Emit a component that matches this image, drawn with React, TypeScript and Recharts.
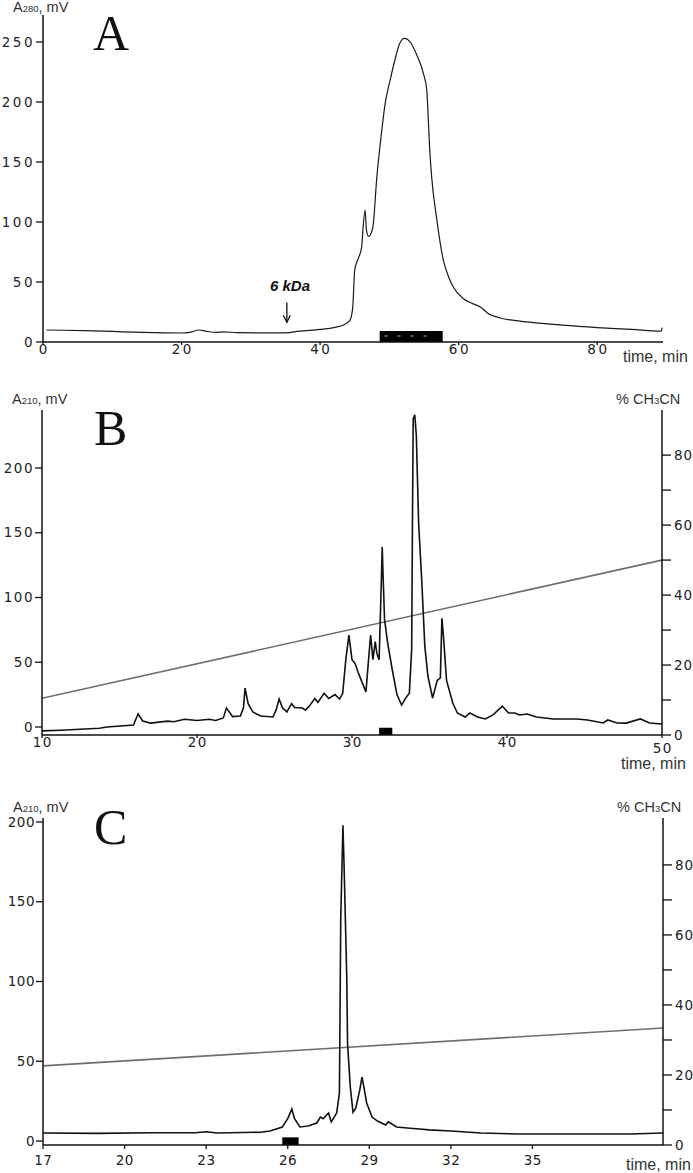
import React from "react";
import {
  ComposedChart,
  Line,
  XAxis,
  YAxis,
  ReferenceArea,
  ReferenceLine,
} from "recharts";

// panel A: gel filtration, A280
const aTime = [
  0.5, 3, 6, 10, 13, 16, 20, 21.5, 22.5, 23.5, 25, 26, 28, 32, 35, 37, 40, 42,
  43.3, 44.3, 44.7, 45.0, 45.4, 46.0, 46.2, 46.5, 46.7, 47.0, 47.6, 48.2, 48.9,
  49.4, 50.1, 50.8, 51.5, 52.2, 53.0, 53.9, 54.9, 55.4, 55.6, 55.8, 56.1, 56.8,
  57.8, 58.5, 59.2, 60.7, 62, 63.2, 64.2, 66, 68, 72, 75, 80, 85, 89.2, 89.4,
];
const aSignal = [
  10, 9.8, 9.5, 8.8, 8.2, 7.8, 7.5, 8.5, 10, 9, 8, 8.5, 7.8, 7.6, 7.6, 9, 10.5,
  12, 14, 18, 28, 60, 68, 79, 95, 110, 93, 88, 95, 138, 176, 199, 218, 235, 249,
  253, 250, 240, 224, 210, 188, 163, 138, 104, 68, 55, 46, 36, 32, 29, 24, 20,
  18, 15.5, 14, 12, 10.5, 9, 12,
];
const aTicksX = [0, 20, 40, 60, 80];
const aTicksY = [0, 50, 100, 150, 200, 250];

// panel B: RP-HPLC, A210
const bTime = [
  10.0, 11.2, 13.7, 14.2, 15.9, 16.2, 16.5, 17.0, 18.1, 18.5, 19.2, 20.0, 20.8,
  21.2, 21.7, 21.9, 22.3, 22.8, 23.0, 23.1, 23.3, 23.6, 24.1, 24.9, 25.1, 25.3,
  25.5, 25.8, 26.1, 26.3, 26.8, 27.0, 27.3, 27.6, 27.8, 28.2, 28.5, 28.9, 29.2,
  29.4, 29.6, 29.8, 30.0, 30.2, 30.4, 30.6, 30.9, 31.0, 31.2, 31.35, 31.5, 31.6,
  31.75, 31.9, 31.95, 32.0, 32.1, 32.3, 32.6, 32.9, 33.2, 33.5, 33.7, 33.85,
  33.9, 33.95, 34.05, 34.15, 34.3, 34.5, 34.7, 34.9, 35.2, 35.5, 35.7, 35.8,
  35.9, 36.1, 36.5, 36.8, 37.3, 37.6, 38.1, 38.6, 39.1, 39.7, 40.1, 40.5, 40.8,
  41.3, 41.9, 43.0, 44.5, 45.2, 46.2, 46.5, 47.1, 47.7, 48.6, 49.2, 50,
];
const bSignal = [
  -3, -2.5, -1, 0, 1.5, 10, 4.6, 3, 4.5, 4, 6, 5, 6, 5, 7, 14.6, 8, 8.5, 15, 30,
  18, 11.6, 8.5, 7.7, 13, 21.6, 15, 11.6, 18, 15, 14.6, 13, 17, 22, 19, 26, 22,
  25, 21.6, 26, 52, 71, 52, 49, 42, 36, 27, 42, 71, 52, 66, 57, 52, 116, 139,
  119, 83, 65, 44, 25, 17, 23, 26, 60, 157, 238, 241, 225, 157, 113, 62, 39,
  22.4, 36, 38, 84, 70, 36, 18.5, 10.8, 7.7, 10.8, 7.7, 6.2, 9.3, 16, 10.8,
  10.8, 9.3, 10, 7.7, 6.2, 6.2, 5.4, 3.1, 5.4, 3.1, 3, 6.2, 3.1, 2.3,
];
const bGradTime = [10, 50];
const bGradPct = [10.5, 50];
const bTicksX = [10, 20, 30, 40, 50];
const bTicksY = [0, 50, 100, 150, 200];
const pctTicks = [0, 10, 20, 30, 40, 50, 60, 70, 80];

// panel C: rechromatography, A210
const cTime = [
  17, 19, 21, 22.6, 23, 23.4, 25, 25.35, 25.8, 26.0, 26.15, 26.25, 26.45, 26.75,
  27.07, 27.2, 27.3, 27.5, 27.6, 27.8, 27.9, 27.95, 28.03, 28.07, 28.17, 28.2,
  28.3, 28.4, 28.5, 28.65, 28.73, 28.8, 28.9, 29.1, 29.3, 29.6, 29.7, 30.0,
  30.5, 30.85, 31.2, 32.0, 33.1, 34.5, 38.6, 39.8,
];
const cSignal = [
  5, 4.8, 5.2, 5.2, 5.8, 5, 5.5, 6.3, 8.8, 14, 20, 14, 8.8, 9.4, 11.3, 15, 14,
  17.6, 12, 17.6, 30, 140, 198, 174, 103, 61, 34, 18, 20.6, 32, 40, 34, 24, 15,
  12.5, 10, 12, 8.8, 8, 7.5, 7, 6.3, 5, 4.4, 4.4, 5,
];
const cGradTime = [17, 39.8];
const cGradPct = [22.6, 33.4];
const cTicksX = [17, 20, 23, 26, 29, 32, 35];
const cTicksY = [0, 50, 100, 150, 200];

const zip = (t: number[], v: number[]) => t.map((time, i) => ({ time, v: v[i] }));
const aData = zip(aTime, aSignal);
const bData = zip(bTime, bSignal);
const cData = zip(cTime, cSignal);
const bGrad = bGradTime.map((time, i) => ({ time, pct: bGradPct[i] }));
const cGrad = cGradTime.map((time, i) => ({ time, pct: cGradPct[i] }));

const AXIS = "#111";
const TICK_FONT = '"DejaVu Sans", Verdana, sans-serif';
const LABEL_FONT = '"Liberation Sans", Arial, sans-serif';
const axisLine = { stroke: AXIS, strokeWidth: 1.5 };
const tickLine = { stroke: AXIS, strokeWidth: 1.3 };

function xTick(offset: number, spacing: number, extra: Record<number, number> = {}) {
  return (props: any) => {
    const { x, y, payload } = props;
    return (
      <text
        x={x + spacing / 2}
        y={y + offset + (extra[payload.value] ?? 0)}
        dy="0.35em"
        textAnchor="middle"
        fontFamily={TICK_FONT}
        fontSize={13.5}
        letterSpacing={spacing}
        fill="#222"
      >
        {payload.value}
      </text>
    );
  };
}

function yTick(spacing: number) {
  return (props: any) => {
    const { x, y, payload } = props;
    return (
      <text
        x={x}
        y={y}
        dy="0.35em"
        textAnchor="end"
        fontFamily={TICK_FONT}
        fontSize={13.5}
        letterSpacing={spacing}
        fill="#222"
      >
        {payload.value}
      </text>
    );
  };
}

const pctTick = (props: any) => {
  const { x, y, payload } = props;
  if (payload.value % 20 !== 0) return <g />;
  return (
    <text
      x={x}
      y={y}
      dy="0.35em"
      textAnchor="start"
      fontFamily={TICK_FONT}
      fontSize={13.5}
      letterSpacing={1}
      fill="#222"
    >
      {payload.value}
    </text>
  );
};

const Arrow = (props: any) => {
  const { x1, y1, x2, y2 } = props;
  return (
    <g stroke="#111" strokeWidth={1.3} fill="none">
      <line x1={x1} y1={y1} x2={x2} y2={y2} />
      <path d={`M${x2 - 3.5},${y2 - 7} L${x2},${y2} L${x2 + 3.5},${y2 - 7}`} />
    </g>
  );
};

function PanelA() {
  return (
    <ComposedChart
      width={693}
      height={370}
      data={aData}
      margin={{ top: 15, right: 30, bottom: 3, left: 0 }}
    >
      <XAxis
        dataKey="time"
        type="number"
        domain={[0, 89.5]}
        ticks={aTicksX}
        allowDataOverflow
        height={25}
        axisLine={axisLine}
        tickLine={tickLine}
        tickSize={3}
        tickMargin={0}
        tick={xTick(4, 2.5)}
        interval={0}
      />
      <YAxis
        type="number"
        domain={[0, 272.5]}
        ticks={aTicksY}
        allowDataOverflow
        width={43}
        axisLine={axisLine}
        tickLine={tickLine}
        tickSize={7}
        tickMargin={1}
        tick={yTick(2.5)}
        interval={0}
      />
      <ReferenceArea x1={48.6} x2={57.7} y1={0} y2={9.2} fill="#000" fillOpacity={1} stroke="none" />
      <ReferenceLine
        segment={[{ x: 49.3, y: 5 }, { x: 56.2, y: 5 }]}
        stroke="#bbb"
        strokeWidth={1}
        strokeDasharray="3 10"
      />
      <ReferenceLine segment={[{ x: 35.2, y: 33 }, { x: 35.2, y: 16.5 }]} shape={Arrow} />
      <Line
        dataKey="v"
        type="monotone"
        stroke="#1a1a1a"
        strokeWidth={1.2}
        dot={false}
        isAnimationActive={false}
      />
    </ComposedChart>
  );
}

function PanelB() {
  return (
    <ComposedChart
      width={693}
      height={400}
      data={bData}
      margin={{ top: 38, right: 0, bottom: 12, left: 0 }}
    >
      <XAxis
        dataKey="time"
        type="number"
        domain={[10, 50]}
        ticks={bTicksX}
        allowDataOverflow
        height={25}
        axisLine={axisLine}
        tickLine={tickLine}
        tickSize={3}
        tickMargin={0}
        tick={xTick(4, 1.5, { 50: 6 })}
        interval={0}
      />
      <YAxis
        yAxisId="l"
        type="number"
        domain={[-6.2, 244.8]}
        ticks={bTicksY}
        allowDataOverflow
        width={42}
        axisLine={axisLine}
        tickLine={tickLine}
        tickSize={7}
        tickMargin={1}
        tick={yTick(1.5)}
        interval={0}
      />
      <YAxis
        yAxisId="r"
        orientation="right"
        type="number"
        domain={[0, 92.9]}
        ticks={pctTicks}
        allowDataOverflow
        width={31}
        axisLine={axisLine}
        tickLine={tickLine}
        tickSize={9}
        tickMargin={3}
        tick={pctTick}
        interval={0}
      />
      <ReferenceArea yAxisId="l" x1={31.75} x2={32.6} y1={-6.2} y2={-0.6} fill="#000" fillOpacity={1} stroke="none" />
      <Line
        yAxisId="r"
        data={bGrad}
        dataKey="pct"
        type="linear"
        stroke="#6e6e6e"
        strokeWidth={1.6}
        dot={false}
        isAnimationActive={false}
      />
      <Line
        yAxisId="l"
        dataKey="v"
        type="linear"
        stroke="#111"
        strokeWidth={1.6}
        dot={false}
        isAnimationActive={false}
      />
    </ComposedChart>
  );
}

function PanelC() {
  return (
    <ComposedChart
      width={693}
      height={393}
      data={cData}
      margin={{ top: 38, right: 0, bottom: 3, left: 0 }}
    >
      <XAxis
        dataKey="time"
        type="number"
        domain={[17, 39.8]}
        ticks={cTicksX}
        allowDataOverflow
        height={25}
        axisLine={axisLine}
        tickLine={tickLine}
        tickSize={4}
        tickMargin={0}
        tick={xTick(11, 0.5)}
        interval={0}
      />
      <YAxis
        yAxisId="l"
        type="number"
        domain={[-2.5, 202.5]}
        ticks={cTicksY}
        allowDataOverflow
        width={43}
        axisLine={axisLine}
        tickLine={tickLine}
        tickSize={7}
        tickMargin={1}
        tick={yTick(0.5)}
        interval={0}
      />
      <YAxis
        yAxisId="r"
        orientation="right"
        type="number"
        domain={[0, 93.4]}
        ticks={pctTicks}
        allowDataOverflow
        width={30}
        axisLine={axisLine}
        tickLine={tickLine}
        tickSize={9}
        tickMargin={3}
        tick={pctTick}
        interval={0}
      />
      <ReferenceArea yAxisId="l" x1={25.8} x2={26.4} y1={-2.5} y2={2.3} fill="#000" fillOpacity={1} stroke="none" />
      <Line
        yAxisId="r"
        data={cGrad}
        dataKey="pct"
        type="linear"
        stroke="#6e6e6e"
        strokeWidth={1.6}
        dot={false}
        isAnimationActive={false}
      />
      <Line
        yAxisId="l"
        dataKey="v"
        type="linear"
        stroke="#111"
        strokeWidth={1.6}
        dot={false}
        isAnimationActive={false}
      />
    </ComposedChart>
  );
}

const Sub = ({ children }: { children: React.ReactNode }) => (
  <tspan fontSize={9.5}>{children}</tspan>
);

export default function App() {
  const lbl = { fontFamily: LABEL_FONT, fontSize: 14.5, fill: "#333" };
  const time = { fontFamily: LABEL_FONT, fontSize: 16, fill: "#333" };
  const letter = { fontFamily: '"Liberation Serif", "Times New Roman", serif', fontSize: 50, fill: "#111" };
  return (
    <div style={{ position: "absolute", left: 0, top: 0, width: 693, height: 1173, background: "#fff" }}>
      <div style={{ position: "absolute", left: 0, top: 0 }}>
        <PanelA />
      </div>
      <div style={{ position: "absolute", left: 0, top: 372 }}>
        <PanelB />
      </div>
      <div style={{ position: "absolute", left: 0, top: 780 }}>
        <PanelC />
      </div>
      <svg
        width={693}
        height={1173}
        style={{ position: "absolute", left: 0, top: 0, pointerEvents: "none" }}
      >
        <text x={93} y={50} {...letter}>A</text>
        <text x={94} y={445} {...letter}>B</text>
        <text x={94} y={844} {...letter}>C</text>

        <text x={13} y={12} {...lbl}>A<Sub>280</Sub>, mV</text>
        <text x={12} y={404} {...lbl}>A<Sub>210</Sub>, mV</text>
        <text x={13} y={812} {...lbl}>A<Sub>210</Sub>, mV</text>

        <text x={616} y={404} {...lbl}>% CH<Sub>3</Sub>CN</text>
        <text x={617} y={812} {...lbl}>% CH<Sub>3</Sub>CN</text>

        <text x={623} y={362} {...time}>time, min</text>
        <text x={621} y={769} {...time}>time, min</text>
        <text x={626} y={1170} {...time}>time, min</text>

        <text
          x={290}
          y={291}
          textAnchor="middle"
          fontFamily={LABEL_FONT}
          fontSize={15}
          fontWeight="bold"
          fontStyle="italic"
          fill="#111"
        >
          6 kDa
        </text>
      </svg>
    </div>
  );
}
